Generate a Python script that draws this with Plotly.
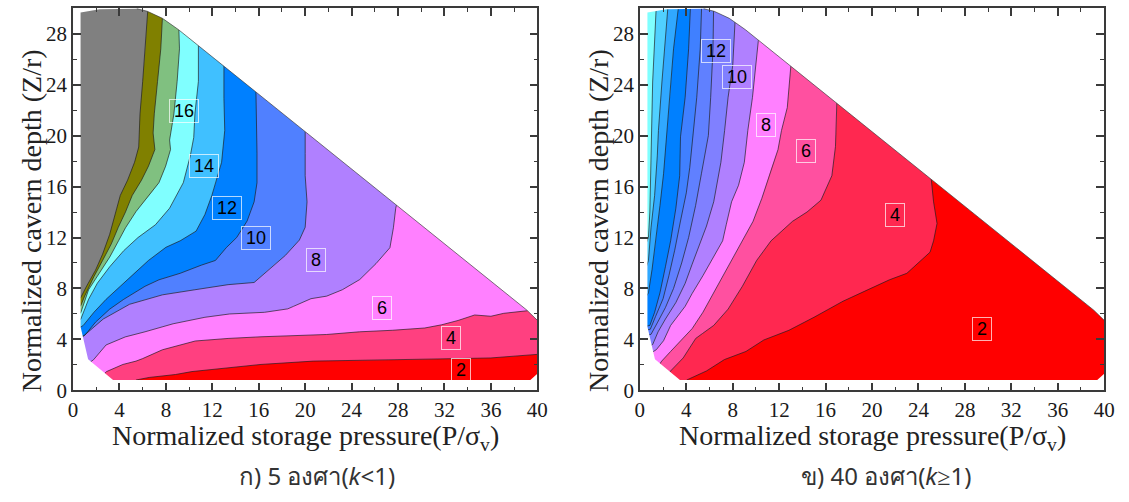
import plotly.graph_objects as go

# ---------------------------------------------------------------
# Safety-factor contours of a storage cavern, two rock dip angles.
# Each isoline is a list of (P/σv, Z/r) points; band values are the
# even numbers between consecutive odd-valued isolines.
# ---------------------------------------------------------------

# outline of the computed region (shared by both panels), clockwise
region_x = [0.65, 2.3, 5.5, 6.4, 7.7, 9.1, 39.1, 40.0, 40.0, 39.4, 3.45, 1.3, 0.65]
region_y = [29.65, 29.9, 29.95, 29.75, 29.2, 28.3, 6.3, 5.5, 1.3, 0.82, 0.82, 2.45, 5.0]

# ---- panel (a): 5 degrees, k < 1 ----
a_levels = [3, 5, 7, 9, 11, 13, 15, 17, 19, 21]
a_c3 = [(4.8, 0.3), (5.43, 0.82), (6.57, 1.02), (8.83, 1.25), (10.25, 1.48), (12.2, 1.66),
        (16.19, 2.04), (20.7, 2.3), (24.7, 2.35), (28.9, 2.4), (33.2, 2.5), (36.0, 2.55),
        (40.0, 2.81), (41.0, 2.9)]
a_c5 = [(2.0, 0.7), (2.89, 1.48), (4.3, 2.04), (5.43, 2.3), (6.0, 2.5), (7.7, 3.19),
        (10.53, 3.88), (13.36, 4.08), (16.19, 4.21), (19.0, 4.29), (21.85, 4.39), (24.68, 4.6),
        (27.5, 4.72), (30.3, 4.9), (31.75, 5.15), (33.17, 5.49), (34.6, 5.92), (36.0, 5.82),
        (37.1, 6.05), (39.1, 6.25), (40.5, 6.5)]
a_c7 = [(0.8, 1.8), (1.76, 2.4), (2.85, 3.57), (4.5, 4.2), (6.2, 4.6), (8.62, 5.23),
        (11.36, 5.74), (13.48, 6.0), (16.5, 6.13), (18.5, 6.4), (19.0, 6.6), (20.5, 7.2),
        (21.85, 7.4), (23.2, 7.9), (24.7, 8.7), (26.1, 9.95), (27.3, 11.2), (27.6, 12.76),
        (27.8, 14.3), (27.9, 14.7), (28.3, 15.5)]
a_c9 = [(0.3, 3.8), (1.48, 4.7), (2.6, 5.6), (4.87, 6.76), (7.7, 7.5), (10.5, 7.9),
        (13.36, 8.3), (15.6, 8.47), (17.0, 9.6), (18.3, 10.6), (19.5, 11.8), (20.0, 12.8),
        (20.16, 14.8), (20.0, 16.85), (20.0, 18.6), (20.0, 20.3), (20.0, 21.5)]
a_c11 = [(0.2, 4.0), (1.03, 4.34), (1.94, 5.36), (3.16, 6.38), (4.37, 7.15), (6.2, 8.17),
         (7.4, 8.68), (9.23, 9.19), (11.05, 9.83), (12.27, 10.2), (13.2, 11.2), (14.1, 12.0),
         (15.0, 13.3), (15.6, 14.8), (15.85, 16.3), (15.85, 18.6), (15.76, 23.35), (15.8, 24.5)]
a_c13 = [(0.2, 4.7), (0.88, 5.1), (1.8, 6.13), (2.85, 7.15), (4.07, 8.17), (5.28, 9.19),
         (6.5, 10.2), (8.0, 11.23), (9.23, 11.74), (10.6, 12.5), (11.36, 13.8), (11.96, 15.3),
         (12.57, 17.1), (12.8, 17.9), (13.07, 20.4), (13.0, 22.9), (13.0, 25.4), (13.0, 26.5)]
a_c15 = [(0.2, 5.3), (0.67, 5.6), (1.34, 7.15), (2.1, 8.42), (3.16, 9.7), (4.37, 10.97),
         (5.6, 12.0), (7.1, 13.0), (8.32, 14.3), (9.5, 16.3), (10.1, 18.4), (10.4, 19.85),
         (10.5, 21.7), (10.8, 24.25), (10.8, 27.05), (10.9, 28.0)]
a_c17 = [(0.2, 5.8), (0.67, 6.1), (1.34, 7.9), (2.25, 9.19), (3.16, 10.46), (3.92, 11.74),
         (4.52, 12.76), (5.43, 14.04), (6.8, 15.57), (7.4, 16.3), (7.98, 17.6), (8.4, 18.9),
         (8.32, 19.65), (8.69, 21.7), (8.97, 24.25), (9.17, 26.8), (9.12, 28.28), (9.3, 29.3)]
a_c19 = [(0.2, 6.4), (0.67, 6.65), (1.0, 7.4), (1.8, 8.93), (2.55, 10.2), (3.3, 11.5),
         (3.9, 12.8), (4.52, 14.0), (5.1, 15.3), (5.9, 16.5), (6.5, 17.6), (7.05, 18.9),
         (6.9, 20.2), (7.0, 21.7), (7.28, 24.25), (7.56, 26.8), (7.7, 29.2), (7.9, 30.5)]
a_c21 = [(0.2, 7.0), (0.67, 7.3), (1.18, 8.2), (1.94, 9.44), (2.55, 10.7), (3.16, 12.25),
         (3.77, 14.3), (4.07, 15.3), (4.7, 16.5), (5.3, 17.9), (5.66, 19.1), (5.77, 21.7),
         (6.0, 24.25), (6.23, 26.8), (6.43, 29.7), (6.5, 31.0)]
a_lines = [a_c3, a_c5, a_c7, a_c9, a_c11, a_c13, a_c15, a_c17, a_c19, a_c21]
a_colors = ["#FF0000", "#FF4080", "#FF80FF", "#B080FF", "#5080FF", "#0080FF",
            "#40C0FF", "#80FFFF", "#80C080", "#808000", "#808080"]
a_label_vals = [2, 4, 6, 8, 10, 12, 14, 16]
a_label_xy = [(33.4, 1.6), (32.6, 4.1), (26.6, 6.43), (20.95, 10.26), (15.8, 11.97),
              (13.24, 14.34), (11.27, 17.6), (9.6, 21.9)]

# ---- panel (b): 40 degrees, k >= 1 ----
b_levels = [3, 5, 7, 9, 11, 13, 15, 17, 19, 21, 23]
b_c3 = [(3.8, 0.3), (4.04, 0.82), (5.74, 1.53), (7.28, 2.42), (9.14, 3.06), (10.68, 3.96),
        (12.84, 4.72), (15.0, 5.74), (17.5, 7.0), (19.6, 7.9), (21.5, 8.68), (23.0, 9.19),
        (25.0, 10.85), (25.3, 11.74), (25.6, 13.1), (25.3, 14.8), (25.1, 16.6), (25.1, 17.8)]
b_c5 = [(2.2, 1.0), (2.65, 1.53), (3.73, 2.55), (4.81, 4.08), (5.4, 4.47), (6.36, 5.1),
        (7.6, 6.38), (8.83, 8.17), (10.06, 10.2), (11.3, 11.74), (13.15, 13.27), (14.4, 14.0),
        (15.6, 14.93), (16.54, 16.85), (16.85, 19.14), (17.0, 22.3), (17.0, 23.5)]
b_c7 = [(1.5, 1.8), (1.88, 2.3), (2.65, 3.06), (3.43, 3.83), (4.5, 4.85), (5.43, 6.13),
        (6.05, 7.15), (6.98, 8.68), (7.9, 10.2), (8.83, 11.74), (9.75, 13.27), (10.5, 15.06),
        (11.3, 17.36), (11.9, 18.9), (12.2, 20.4), (12.7, 22.2), (13.0, 25.4), (13.1, 26.5)]
b_c9 = [(0.9, 2.9), (1.42, 3.2), (2.04, 3.9), (2.65, 5.1), (3.9, 6.6), (4.5, 7.6),
        (5.43, 9.0), (6.36, 10.5), (7.13, 11.74), (7.44, 13.0), (7.9, 14.8), (8.5, 16.1),
        (9.0, 17.9), (9.3, 20.4), (9.7, 23.0), (10.2, 27.4), (10.4, 28.5)]
b_c11 = [(0.5, 3.3), (1.1, 3.6), (1.57, 4.6), (2.2, 5.6), (3.1, 6.9), (3.9, 8.4),
         (4.5, 9.9), (5.1, 11.4), (5.74, 12.9), (6.36, 14.8), (6.98, 17.9), (7.3, 20.4),
         (7.6, 23.0), (8.0, 25.5), (8.2, 29.0), (8.4, 30.5)]
b_c13 = [(0.3, 4.3), (0.96, 4.4), (1.5, 5.3), (2.2, 6.5), (2.9, 8.0), (3.6, 10.0),
         (4.2, 12.0), (4.8, 14.5), (5.3, 17.0), (5.9, 20.0), (6.1, 23.0), (6.3, 26.8),
         (6.35, 29.9), (6.4, 31.0)]
b_c15 = [(0.3, 4.7), (0.9, 4.8), (1.35, 5.8), (2.0, 7.2), (2.5, 9.0), (3.0, 11.0),
         (3.5, 13.3), (4.0, 15.5), (4.3, 17.5), (4.6, 20.0), (4.9, 23.0), (5.2, 26.8),
         (5.3, 29.9), (5.35, 31.0)]
b_c17 = [(0.3, 5.0), (0.86, 5.1), (1.27, 6.13), (1.73, 7.66), (2.2, 9.7), (2.65, 11.74),
         (3.1, 14.3), (3.43, 16.85), (3.5, 19.9), (3.9, 23.0), (4.2, 26.8), (4.35, 29.9),
         (4.4, 31.0)]
b_c19 = [(0.3, 7.0), (0.74, 7.66), (1.05, 9.5), (1.42, 12.0), (1.73, 14.5), (2.04, 17.0),
         (2.3, 20.0), (2.6, 23.0), (2.9, 26.8), (3.3, 29.9), (3.3, 31.0)]
b_c21 = [(0.3, 9.0), (0.74, 10.2), (0.96, 12.76), (1.27, 15.3), (1.5, 18.4), (1.6, 20.4),
         (1.9, 24.2), (2.4, 29.9), (2.4, 31.0)]
b_c23 = [(0.3, 11.0), (0.74, 12.0), (0.86, 14.0), (0.96, 17.9), (1.0, 20.4), (1.1, 24.2),
         (1.4, 29.9), (1.4, 31.0)]
b_lines = [b_c3, b_c5, b_c7, b_c9, b_c11, b_c13, b_c15, b_c17, b_c19, b_c21, b_c23]
b_colors = ["#FF0000", "#FF2850", "#FF50A0", "#FF80FF", "#B080FF", "#8080FF",
            "#6080FF", "#4080FF", "#0080FF", "#30A8FF", "#50D0FF", "#80FFFF"]
b_label_vals = [2, 4, 6, 8, 10, 12]
b_label_xy = [(29.5, 4.8), (22.0, 13.8), (14.3, 18.8), (10.9, 20.8), (8.4, 24.6), (6.6, 26.6)]

# ---------------------------------------------------------------
W, H = 1129, 502
SERIF = "Liberation Serif"
panels = [
    dict(xa="x", ya="y", dom=(69, 540), lines=a_lines, colors=a_colors,
         lab_v=a_label_vals, lab_xy=a_label_xy,
         sub="ก) 5 องศา(<i>k</i>&lt;1)", sub_x=316),
    dict(xa="x2", ya="y2", dom=(644, 1115), lines=b_lines, colors=b_colors,
         lab_v=b_label_vals, lab_xy=b_label_xy,
         sub="ข) 40 องศา(<i>k</i>≥1)", sub_x=894),
]
Y_TOP, Y_BOT = 8.3, 400.0

fig = go.Figure()
annotations = []
FAR = 60.0

for p in panels:
    xa, ya = p["xa"], p["ya"]
    # lowest band fills the whole region
    fig.add_trace(go.Scatter(x=[-FAR, FAR, FAR, -FAR], y=[-FAR, -FAR, FAR, FAR],
                             fill="toself", fillcolor=p["colors"][0], mode="none",
                             xaxis=xa, yaxis=ya, hoverinfo="skip", showlegend=False))
    # each higher band: region on the upper-left side of its isoline
    for line, col in zip(p["lines"], p["colors"][1:]):
        lx = [-FAR] + [pt[0] for pt in line] + [line[-1][0], -FAR]
        ly = [-FAR] + [pt[1] for pt in line] + [FAR, FAR]
        fig.add_trace(go.Scatter(x=lx, y=ly, fill="toself", fillcolor=col, mode="none",
                                 xaxis=xa, yaxis=ya, hoverinfo="skip", showlegend=False))
    # isolines
    for line in p["lines"]:
        fig.add_trace(go.Scatter(x=[pt[0] for pt in line], y=[pt[1] for pt in line],
                                 mode="lines", line=dict(color="rgba(30,30,30,0.85)", width=0.8),
                                 xaxis=xa, yaxis=ya, hoverinfo="skip", showlegend=False))
    # white mask outside the computed region: outer box counter-clockwise,
    # region outline clockwise, joined into one keyhole path
    mx = [-FAR, FAR, FAR, -FAR, -FAR] + region_x + [region_x[0], -FAR]
    my = [-FAR, -FAR, FAR, FAR, -FAR] + region_y + [region_y[0], -FAR]
    fig.add_trace(go.Scatter(x=mx, y=my, fill="toself", fillcolor="white", mode="none",
                             xaxis=xa, yaxis=ya, hoverinfo="skip", showlegend=False))
    # thin edge along the sloping side of the region
    fig.add_trace(go.Scatter(x=region_x[2:8], y=region_y[2:8], mode="lines",
                             line=dict(color="rgba(50,50,50,0.8)", width=0.8),
                             xaxis=xa, yaxis=ya, hoverinfo="skip", showlegend=False))
    # band value labels in light boxes
    for v, (lx_, ly_) in zip(p["lab_v"], p["lab_xy"]):
        txt = str(v)
        annotations.append(dict(x=lx_, y=ly_, xref=xa, yref=ya, text=txt, showarrow=False,
                                font=dict(family="Liberation Sans", size=18, color="black"),
                                width=10 * len(txt) + 6, height=20, align="center",
                                bordercolor="rgba(255,255,255,0.7)", borderwidth=1, borderpad=1))
    x0, x1 = p["dom"]
    xc = (x0 + x1) / 2
    annotations.append(dict(x=xc / W, y=1 - 428 / H, xref="paper", yref="paper",
                            text="Normalized storage pressure(P/σ<sub>v</sub>)", showarrow=False,
                            font=dict(family=SERIF, size=28, color="#222"),
                            xanchor="center", yanchor="top"))
    annotations.append(dict(x=(x0 - 42) / W, y=1 - 226 / H, xref="paper", yref="paper",
                            text="Normalized cavern depth (Z/r)", showarrow=False, textangle=-90,
                            font=dict(family=SERIF, size=28, color="#222"),
                            xanchor="center", yanchor="middle"))
    annotations.append(dict(x=p["sub_x"] / W, y=1 - 487 / H, xref="paper", yref="paper",
                            text=p["sub"], showarrow=False,
                            font=dict(family="Noto Sans", size=24, color="#333"),
                            xanchor="center", yanchor="middle"))

minor_ticks = dict(ticks="inside", ticklen=4, tickwidth=1.2, tickcolor="#3a3a3a", dtick=2)
axis_common = dict(showgrid=False, zeroline=False, showline=True, linecolor="#3a3a3a", linewidth=1.5,
                   mirror="allticks", ticks="inside", ticklen=8, tickwidth=1.5, tickcolor="#3a3a3a",
                   tickfont=dict(family=SERIF, size=21, color="#1a1a1a"),
                   tick0=0, dtick=4, minor=minor_ticks)

layout_axes = {}
for i, p in enumerate(panels):
    sfx = "" if i == 0 else "2"
    x0, x1 = p["dom"]
    layout_axes["xaxis" + sfx] = dict(axis_common, domain=[x0 / W, x1 / W], range=[0, 40],
                                      anchor="y" + sfx)
    layout_axes["yaxis" + sfx] = dict(axis_common, domain=[1 - Y_BOT / H, 1 - Y_TOP / H],
                                      range=[0, 30], anchor="x" + sfx)

fig.update_layout(width=W, height=H, margin=dict(l=0, r=0, t=0, b=0),
                  paper_bgcolor="white", plot_bgcolor="white",
                  annotations=annotations, **layout_axes)

fig.write_html("out.html")
